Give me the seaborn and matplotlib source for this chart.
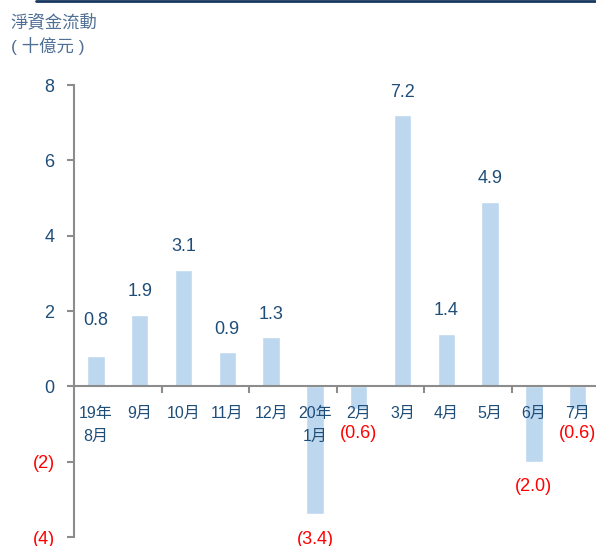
import matplotlib
matplotlib.use("Agg")
import matplotlib.pyplot as plt
import seaborn as sns
import pandas as pd

# Monthly net fund flows (HK$ bn)
months = ["19年\n8月", "9月", "10月", "11月", "12月", "20年\n1月",
          "2月", "3月", "4月", "5月", "6月", "7月"]
flows = [0.8, 1.9, 3.1, 0.9, 1.3, -3.4, -0.6, 7.2, 1.4, 4.9, -2.0, -0.6]
y_ticks = [-4, -2, 0, 2, 4, 6, 8]
y_tick_labels = ["(4)", "(2)", "0", "2", "4", "6", "8"]

NAVY = "#1f4e79"
RED = "#ff0000"
BAR = "#bdd7ee"
AXIS = "#8c8c8c"

sns.set_theme(style="white")
plt.rcParams["font.family"] = ["Liberation Sans", "Noto Sans CJK TC", "DejaVu Sans"]

df = pd.DataFrame({"month": months, "flow": flows})

fig = plt.figure(figsize=(5.96, 5.46), dpi=100)
ax = fig.add_axes([74 / 596, 9 / 546, 525.6 / 596, 452 / 546])
sns.barplot(data=df, x="month", y="flow", color=BAR, width=0.4,
            saturation=1, ax=ax, zorder=1)
ax.set_axisbelow(False)

ax.set_xlim(-0.5, len(months) - 0.5)
ax.set_ylim(-4, 8)
ax.set_xlabel("")
ax.set_ylabel("")

# spines
for side in ("top", "right"):
    ax.spines[side].set_visible(False)
for side in ("left", "bottom"):
    ax.spines[side].set_color(AXIS)
    ax.spines[side].set_linewidth(1.5)
ax.spines["bottom"].set_position(("data", 0))

# y axis
ax.set_yticks(y_ticks)
ax.set_yticklabels(y_tick_labels, fontsize=13)
ax.tick_params(axis="y", direction="out", length=5, width=1.5,
               color=AXIS, pad=9, left=True)
for lbl, v in zip(ax.get_yticklabels(), y_ticks):
    lbl.set_color(RED if v < 0 else NAVY)

# x axis: labels under each bar, tick marks every two months
ax.set_xticks(range(len(months)))
ax.set_xticklabels(months, fontsize=11.5, color=NAVY, linespacing=1.7)
ax.tick_params(axis="x", which="major", length=0, pad=14)
ax.set_xticks([i + 0.5 for i in range(1, len(months), 2)], minor=True)
ax.tick_params(axis="x", which="minor", direction="out", length=5,
               width=1.5, color=AXIS, bottom=True)

# value labels (the first one sits a little higher)
label_lift = [9, 0, 0, 0, 0, 0, 0, 0, 0, 0, 0, 0]
for i, (v, lift) in enumerate(zip(flows, label_lift)):
    if v >= 0:
        txt, col, dy = f"{v:.1f}", NAVY, 16.5 + lift
    else:
        txt, col, dy = f"({abs(v):.1f})", RED, -18
    ax.annotate(txt, xy=(i, v), xytext=(0, dy), textcoords="offset points",
                ha="center", va="center", fontsize=13, color=col,
                annotation_clip=False)

# header
fig.add_artist(plt.Line2D([36 / 596, 1.0], [1 - 1 / 546, 1 - 1 / 546],
                          color="#17375e", linewidth=2))
fig.text(10 / 596, 1 - 22 / 546, "淨資金流動", fontsize=12.5,
         color="#4f6f94", va="center", ha="left")
fig.text(11 / 596, 1 - 46 / 546, "( 十億元 )", fontsize=12.5,
         color="#4f6f94", va="center", ha="left")

fig.savefig("out.png", dpi=100)
